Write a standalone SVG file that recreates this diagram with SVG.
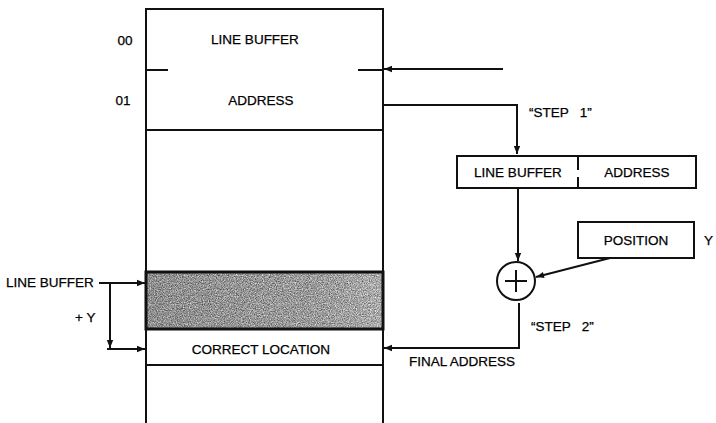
<svg xmlns="http://www.w3.org/2000/svg" width="716" height="423" viewBox="0 0 716 423">
<style>
.t{font-family:"Liberation Sans",Arial,sans-serif;font-size:13.5px;fill:#000;stroke:#000;stroke-width:0.25}
.m{text-anchor:middle}
.ln{stroke:#111;stroke-width:2;fill:none}
.bx{stroke:#111;stroke-width:2;fill:#fff}
</style>
<defs>
<marker id="ah" viewBox="0 0 10 10" refX="10" refY="5" markerWidth="10" markerHeight="8" markerUnits="userSpaceOnUse" orient="auto">
<path d="M0,1 L10,5 L0,9 Z" fill="#111"/>
</marker>
<linearGradient id="fade" x1="0" y1="0" x2="1" y2="0">
<stop offset="0" stop-color="#000" stop-opacity="0.12"/>
<stop offset="0.6" stop-color="#000" stop-opacity="0.05"/>
<stop offset="1" stop-color="#fff" stop-opacity="0.12"/>
</linearGradient>
<filter id="noise" x="0" y="0" width="100%" height="100%" color-interpolation-filters="sRGB">
<feTurbulence type="fractalNoise" baseFrequency="0.85" numOctaves="3" seed="7" result="n"/>
<feColorMatrix in="n" type="matrix" values="0.9 0 0 0 0.18  0.9 0 0 0 0.18  0.9 0 0 0 0.18  0 0 0 0 1" result="g"/>
<feComposite in="g" in2="SourceGraphic" operator="in"/>
</filter>
</defs>
<rect width="716" height="423" fill="#fff"/>

<g id="memory">
<path class="ln" d="M146,430 V9 H383 V430"/>
<line class="ln" x1="146" y1="130" x2="383" y2="130"/>
<line class="ln" x1="146" y1="70" x2="168" y2="70"/>
<line class="ln" x1="358" y1="70" x2="383" y2="70"/>
<text class="t m" x="125" y="45">00</text>
<text class="t m" x="255" y="44">LINE BUFFER</text>
<text class="t m" x="123" y="105">01</text>
<text class="t m" x="261" y="105">ADDRESS</text>
</g>

<g id="shaded">
<rect x="147" y="273" width="235" height="55" fill="#999" filter="url(#noise)"/>
<rect x="147" y="273" width="235" height="55" fill="url(#fade)"/>
<rect x="146" y="272" width="237" height="57" fill="none" stroke="#111" stroke-width="3"/>
</g>

<g id="correct-location">
<line class="ln" x1="146" y1="365" x2="383" y2="365"/>
<text class="t m" x="261" y="354">CORRECT LOCATION</text>
</g>

<g id="split-box">
<rect class="bx" x="457" y="156" width="239" height="32"/>
<line class="ln" x1="578" y1="156" x2="578" y2="170"/>
<line class="ln" x1="578" y1="177" x2="578" y2="188"/>
<text class="t m" x="518" y="177">LINE BUFFER</text>
<text class="t m" x="637" y="177">ADDRESS</text>
</g>

<g id="position">
<rect class="bx" x="578" y="222" width="116" height="36"/>
<text class="t m" x="636" y="245">POSITION</text>
<text class="t" x="704" y="245">Y</text>
</g>

<g id="adder">
<circle class="bx" cx="516" cy="281" r="19"/>
<line class="ln" x1="505" y1="281" x2="527" y2="281"/>
<line class="ln" x1="516" y1="270" x2="516" y2="292"/>
</g>

<g id="labels">
<text class="t" x="529" y="117" xml:space="preserve">“STEP   1”</text>
<text class="t" x="531" y="331" xml:space="preserve">“STEP   2”</text>
<text class="t" x="409" y="366">FINAL ADDRESS</text>
<text class="t" x="6" y="287">LINE BUFFER</text>
<text class="t" x="75" y="322">+ Y</text>
</g>

<g id="connectors">
<line class="ln" x1="503" y1="69" x2="384" y2="69" marker-end="url(#ah)"/>
<path class="ln" d="M383,105 H517 V154" marker-end="url(#ah)"/>
<line class="ln" x1="518" y1="188" x2="518" y2="261" marker-end="url(#ah)"/>
<line class="ln" x1="610" y1="258" x2="536" y2="277" marker-end="url(#ah)"/>
<path class="ln" d="M519,303 V348 H384" marker-end="url(#ah)"/>
<line class="ln" x1="99" y1="283" x2="145" y2="283" marker-end="url(#ah)"/>
<line class="ln" x1="110" y1="283" x2="110" y2="348" marker-end="url(#ah)"/>
<line class="ln" x1="107" y1="349" x2="145" y2="349" marker-end="url(#ah)"/>
</g>
</svg>
